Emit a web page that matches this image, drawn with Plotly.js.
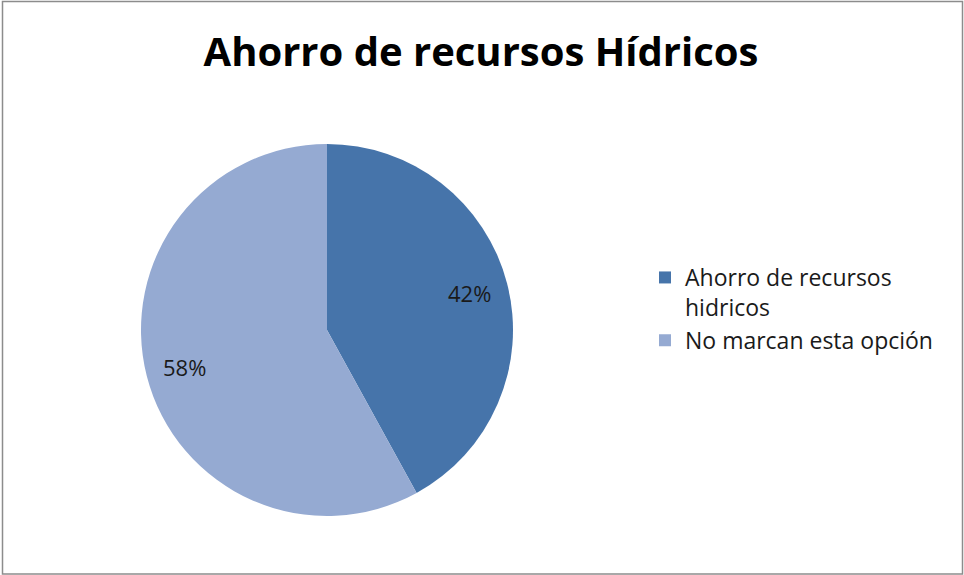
<!DOCTYPE html>
<html>
<head>
<meta charset="utf-8">
<script src="https://cdn.plot.ly/plotly-3.0.1.min.js"></script>
<style>
html,body{margin:0;padding:0;background:#fff;}
#chart{width:964px;height:575px;}
</style>
</head>
<body>
<div id="chart"></div>
<script>
const categories = ["Ahorro de recursos<br>hidricos", "No marcan esta opción"];
const values = [42, 58];
const colors = ["#4674AA", "#95AAD2"];
const chartTitle = "Ahorro de recursos Hídricos";

const W = 964, H = 575;
const cx = 327, cy = 330, R = 186;
const FONT = "Open Sans, Liberation Sans, sans-serif";

const domX = [(cx - R) / W, (cx + R) / W];
const domY = [1 - (cy + R) / H, 1 - (cy - R) / H];

const trace = {
  type: "pie",
  labels: categories,
  values: values,
  sort: false,
  direction: "clockwise",
  rotation: 0,
  marker: {colors: colors, line: {width: 0}},
  textinfo: "none",
  hoverinfo: "none",
  domain: {x: domX, y: domY}
};

// percentage labels placed along each slice's bisector, derived from the values
const total = values.reduce((a, b) => a + b, 0);
const annotations = [];
let cum = 0;
values.forEach((v, i) => {
  const mid = (cum + v / 2) / total * 2 * Math.PI;
  cum += v;
  const r = 0.79 * R;
  const px = cx + r * Math.sin(mid);
  const py = cy - r * Math.cos(mid);
  annotations.push({
    xref: "paper", yref: "paper",
    x: px / W, y: 1 - py / H,
    text: Math.round(v / total * 100) + "%",
    showarrow: false,
    font: {family: FONT, size: 22, color: "#1a1a1a"},
    xanchor: "center", yanchor: "middle"
  });
});

const layout = {
  width: W, height: H,
  margin: {l: 0, r: 0, t: 0, b: 0},
  paper_bgcolor: "#ffffff",
  title: {
    text: "<b>" + chartTitle + "</b>",
    font: {family: FONT, size: 40, color: "#000"},
    x: 481 / W, xanchor: "center",
    y: 1 - 52 / H, yanchor: "middle"
  },
  showlegend: true,
  legend: {
    x: 645 / W, xanchor: "left",
    y: 1 - 256 / H, yanchor: "top",
    valign: "top",
    font: {family: FONT, size: 23, color: "#1a1a1a"},
    itemwidth: 30,
    bgcolor: "rgba(0,0,0,0)"
  },
  annotations: annotations,
  shapes: [{
    type: "rect", xref: "paper", yref: "paper",
    x0: 2.5 / W, x1: 962.5 / W, y0: 1 - 574 / H, y1: 1 - 1.5 / H,
    line: {color: "#8c8c8c", width: 1.5}
  }]
};

Plotly.newPlot("chart", [trace], layout, {displayModeBar: false, staticPlot: true});
</script>
</body>
</html>
